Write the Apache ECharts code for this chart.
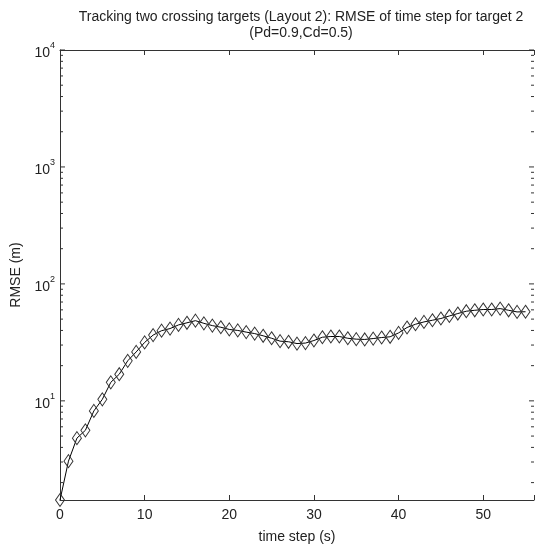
<!DOCTYPE html>
<html>
<head>
<meta charset="utf-8">
<script src="https://cdn.jsdelivr.net/npm/echarts@6/dist/echarts.min.js"></script>
<style>html,body{margin:0;padding:0;background:#fff}#c{width:537px;height:550px}</style>
</head>
<body>
<div id="c"></div>
<script>
// ---- data ----
const timeSteps = [0,1,2,3,4,5,6,7,8,9,10,11,12,13,14,15,16,17,18,19,20,21,22,23,24,25,26,27,28,29,30,31,32,33,34,35,36,37,38,39,40,41,42,43,44,45,46,47,48,49,50,51,52,53,54,55];
const rmse = [1.42,3.05,4.8,5.6,8.2,10.3,14.4,16.9,22,26.2,31.6,36.5,39.8,41.5,44.6,46.5,48.5,46,44,42.6,40.8,40,38.7,37.6,36,34.3,32.4,32,30.9,31.2,32.8,35,35.5,35.5,34.3,33.7,33.5,34.1,34.8,35.3,38.1,42.4,45.2,47.3,48.9,50.6,53.2,55.8,58.4,59.5,60.4,60.4,61.5,59.5,57.6,57.8];
const xTicks = [0,10,20,30,40,50];
const yMajorTicks = [10,100,1000,10000];
const yMinorTicks = [2,3,4,5,6,7,8,9,20,30,40,50,60,70,80,90,200,300,400,500,600,700,800,900,2000,3000,4000,5000,6000,7000,8000,9000];
const xMin = 0, xMax = 56, yMin = 1.42, yMax = 10000;
const titleText = 'Tracking two crossing targets (Layout 2): RMSE of time step for target 2\n(Pd=0.9,Cd=0.5)';

const axisColor = '#333';
const font = 'Liberation Sans, Arial, sans-serif';

function tickSeries(values, len) {
  return {
    type: 'custom',
    silent: true,
    z: 5,
    clip: false,
    data: values.map(v => [xMin, v]),
    renderItem: function (params, api) {
      const v = api.value(1);
      const l = api.coord([xMin, v]);
      const r = api.coord([xMax, v]);
      return {
        type: 'group',
        children: [
          {type: 'line', shape: {x1: l[0], y1: l[1], x2: l[0] + len, y2: l[1]}, style: {stroke: axisColor, lineWidth: 1}},
          {type: 'line', shape: {x1: r[0], y1: r[1], x2: r[0] - len, y2: r[1]}, style: {stroke: axisColor, lineWidth: 1}}
        ]
      };
    }
  };
}

const chart = echarts.init(document.getElementById('c'), null, {renderer: 'canvas'});
chart.setOption({
  backgroundColor: '#fff',
  animation: false,
  title: {
    text: titleText,
    left: 296,
    top: 4,
    textAlign: 'center',
    textStyle: {fontFamily: font, fontSize: 14, fontWeight: 'normal', color: '#222', lineHeight: 16}
  },
  grid: {left: 60, top: 50, width: 478, height: 450, containLabel: false},
  xAxis: [{
    type: 'value', min: xMin, max: xMax, interval: 10,
    position: 'bottom',
    name: 'time step (s)', nameLocation: 'middle', nameGap: 30,
    nameTextStyle: {fontFamily: font, fontSize: 14, color: '#222'},
    axisLine: {show: true, lineStyle: {color: axisColor, width: 1}},
    axisTick: {show: true, inside: true, length: 5, lineStyle: {color: axisColor}},
    axisLabel: {fontFamily: font, fontSize: 14, color: '#222', margin: 8,
      formatter: v => xTicks.indexOf(v) >= 0 ? String(v) : ''},
    splitLine: {show: false}
  }, {
    type: 'value', min: xMin, max: xMax, interval: 10,
    position: 'top',
    axisLine: {show: true, lineStyle: {color: axisColor, width: 1}},
    axisTick: {show: true, inside: true, length: 5, lineStyle: {color: axisColor}},
    axisLabel: {show: false},
    splitLine: {show: false}
  }],
  yAxis: [{
    type: 'log', logBase: 10, min: yMin, max: yMax,
    name: 'RMSE (m)', nameLocation: 'middle', nameGap: 35,
    nameTextStyle: {fontFamily: font, fontSize: 14, color: '#222'},
    axisLine: {show: true, lineStyle: {color: axisColor, width: 1}},
    axisTick: {show: false},
    axisLabel: {
      margin: 5,
      formatter: function (v) {
        const e = Math.log10(v);
        if (Math.abs(e - Math.round(e)) > 1e-6) return '';
        if (yMajorTicks.indexOf(Math.round(v)) < 0) return '';
        return '{b|10}{e|' + Math.round(e) + '}';
      },
      rich: {
        b: {fontFamily: font, fontSize: 14, color: '#222', padding: [6, 0, 0, 0]},
        e: {fontFamily: font, fontSize: 9, color: '#222', padding: [0, 0, 9, 0]}
      }
    },
    splitLine: {show: false}
  }],
  series: [
    {
      type: 'line',
      xAxisIndex: 0,
      data: timeSteps.map((t, i) => [t, rmse[i]]),
      clip: false,
      symbol: 'diamond',
      symbolSize: [9, 13],
      showAllSymbol: true,
      lineStyle: {color: '#000', width: 1},
      itemStyle: {color: 'rgba(0,0,0,0)', borderColor: '#333', borderWidth: 1},
      z: 3
    },
    tickSeries(yMajorTicks, 5),
    tickSeries(yMinorTicks, 3)
  ]
});
</script>
</body>
</html>
